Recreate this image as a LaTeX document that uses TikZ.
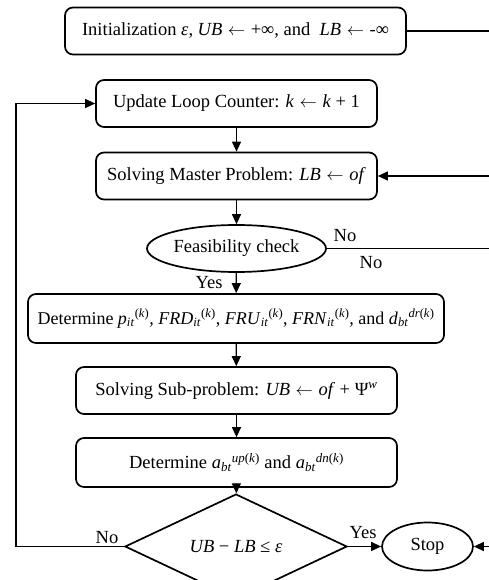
\documentclass[tikz,border=0pt]{standalone}
\usepackage{fontspec}
\setmainfont{Liberation Serif}
\usetikzlibrary{shapes.geometric,arrows.meta}
\newcommand{\vi}[1]{\textit{#1}}
\newcommand{\subsup}[2]{\textsubscript{\textit{#1}}\textsuperscript{#2}}
\newcommand{\kk}{(\textit{k})}
\newcommand{\la}{\hspace{0.3em}$\leftarrow$\hspace{0.3em}}
\tikzset{
  txt/.style={font=\fontsize{18.5}{21}\selectfont},
  box/.style={txt, draw, line width=1.7pt, rounded corners=8pt, inner sep=0pt},
  oval/.style={txt, draw, ellipse, line width=1.7pt, inner sep=0pt},
  dec/.style={txt, draw, diamond, line width=1.7pt, inner sep=0pt},
  conn/.style={line width=1.2pt},
  arr/.style={conn, -{Triangle[length=10pt,width=9pt]}},
  lab/.style={txt, inner sep=0pt}
}
\begin{document}
\begin{tikzpicture}[x=1pt,y=-1pt]
\useasboundingbox (0,0) rectangle (489,580);
\clip (0,0) rectangle (489,580);
\node[box, minimum width=341pt, minimum height=47pt] (init) at (235.5,31)
  {Initialization \vi{ε}, \vi{UB}\la+∞, and \ \vi{LB}\la-∞};
\node[box, minimum width=281pt, minimum height=47pt] (upd) at (236.5,103.5)
  {Update Loop Counter: \vi{k}\la\vi{k} + 1};
\node[box, minimum width=281pt, minimum height=47pt] (master) at (236.5,176)
  {Solving Master Problem: \vi{LB}\la\vi{of}};
\node[oval, minimum width=179pt, minimum height=47pt] (feas) at (236.5,248.5)
  {Feasibility check};
\node[box, minimum width=416pt, minimum height=49pt, font=\fontsize{18}{21}\selectfont] (det1) at (236,318.5)
  {Determine \vi{p}\subsup{it}{\kk}, \vi{FRD}\subsup{it}{\kk}, \vi{FRU}\subsup{it}{\kk}, \vi{FRN}\subsup{it}{\kk}, and \vi{d}\subsup{bt}{\vi{dr}\kk}};
\node[box, minimum width=321pt, minimum height=47pt] (sub) at (236.5,390.5)
  {Solving Sub-problem: \vi{UB}\la\vi{of} + Ψ\textsuperscript{\vi{w}}};
\node[box, minimum width=321pt, minimum height=49pt] (det2) at (236.5,462.5)
  {Determine \vi{a}\subsup{bt}{\vi{up}\kk} and \vi{a}\subsup{bt}{\vi{dn}\kk}};
\node[dec, minimum width=222pt, minimum height=72pt] (chk) at (236,546.5)
  {\vi{UB} − \vi{LB} ≤ \vi{ε}};
\node[oval, minimum width=91pt, minimum height=48pt] (stop) at (427.5,546.5) {Stop};

\coordinate (r1) at (489,31);
\coordinate (r2) at (489,176);
\coordinate (r3) at (489,248.5);
\coordinate (r4) at (489,546.5);
\coordinate (l1) at (16,546.5);

\draw[conn] (init.east) -- (r1);
\draw[arr] (r2) -- (master.east);
\draw[conn] (feas.east) -- (r3);
\draw[arr] (r4) -- (stop.east);
\draw[arr] (upd) -- (master);
\draw[arr] (master) -- (feas);
\draw[arr] (feas) -- (det1);
\draw[arr] (det1) -- (sub);
\draw[arr] (sub) -- (det2);
\draw[arr] (det2) -- (chk);
\draw[arr] (chk.east) -- (stop.west);
\draw[arr] (chk.west) -- (l1) |- (upd.west);

\node[lab] (no1) at (345,236) {No};
\node[lab] (no2) at (371,263) {No};
\node[lab] (yes1) at (209,283) {Yes};
\node[lab] (no3) at (107,538) {No};
\node[lab] (yes2) at (363,533) {Yes};
\end{tikzpicture}
\end{document}
